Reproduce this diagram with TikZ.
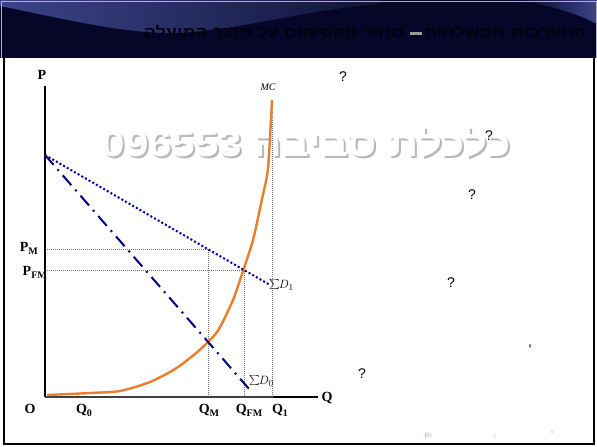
\documentclass[tikz,border=0pt]{standalone}
\usepackage{fontspec}
\setmainfont{Liberation Serif}
\newfontfamily\hebfont[Script=Hebrew]{Liberation Sans}
\newfontfamily\qfont{Liberation Sans}
\TeXXeTstate=1
\usetikzlibrary{positioning}
\definecolor{navyband}{RGB}{6,6,40}
\definecolor{bandlight}{RGB}{60,68,135}
\definecolor{titleink}{RGB}{2,2,14}
\definecolor{demblue}{RGB}{0,0,170}
\definecolor{mcorange}{RGB}{236,125,45}
\newcommand{\axlbl}[2]{\textbf{#1\raisebox{-0.45ex}{\fontsize{10}{10}\selectfont #2}}}
\newcommand{\sumlbl}[1]{{\fontsize{19}{19}\selectfont$\sum$}\kern-1pt{\fontsize{13}{13}\selectfont$D_{#1}$}}

\begin{document}
\begin{tikzpicture}[x=1pt, y=-1pt,
    axis/.style={line width=2pt},
    guide/.style={black!55, line width=0.5pt, dash pattern=on 1pt off 1pt},
    demone/.style={demblue, line width=2pt, dash pattern=on 2pt off 2.2pt},
    demzero/.style={demblue!75!black, line width=2pt, dash pattern=on 13pt off 6pt on 2pt off 6pt},
    cost/.style={mcorange, line width=2.4pt, line join=round},
    ax/.style={font=\fontsize{14}{14}\selectfont, inner sep=1pt},
    dlbl/.style={inner sep=0pt, anchor=west},
    qmark/.style={font=\qfont\fontsize{14}{14}\selectfont, inner sep=0pt},
    wmark/.style={font=\hebfont\bfseries\fontsize{36}{36}\selectfont, xscale=1.17, inner sep=0pt},
    ttl/.style={font=\hebfont\bfseries\fontsize{15}{15}\selectfont, xscale=1.2, text=titleink, inner sep=0pt},
    foot/.style={font=\qfont\fontsize{6}{6}\selectfont, text=black!35, inner sep=0pt},
]
\useasboundingbox (0,0) rectangle (597,447);

% Title band
\fill[navyband] (0,0) rectangle (597,58);
\shade[left color=bandlight, right color=navyband!80!bandlight]
  (0,6) .. controls (60,18) and (120,33) .. (170,33)
  .. controls (230,33) and (300,10) .. (380,4) -- (380,0) -- (0,0) -- cycle;
\shade[left color=navyband, right color=bandlight]
  (520,0) .. controls (545,5) and (575,12) .. (597,24) -- (597,0) -- cycle;
\draw[gray!60, line width=0.8pt] (1,58) -- (1,1) -- (596,1) -- (596,58);
\node[ttl] (title) at (365,33) {\beginR התערבות ממשלתית – מחיר מקסימום על מוצר המועלה\endR};
\fill[gray!80] (410,32) rectangle (422,34.5);

% Slide frame
\draw[line width=2pt] (4,58) -- (4,444) -- (594,444) -- (594,58);

% Watermark
\node[wmark, text=black!28] (wmshadow) at (308,144.5) {\beginR כלכלת סביבה \beginL 096553\endL\endR};
\node[wmark, text=white] (wm) at (306,142.5) {\beginR כלכלת סביבה \beginL 096553\endL\endR};

% Points of the graph
\coordinate (O) at (45,397);
\coordinate (Ptop) at (45,86);
\coordinate (Qbend) at (273,397);
\coordinate (Qend) at (318,397);
\coordinate (Dtop) at (45,155);
\coordinate (D1end) at (270,285);
\coordinate (D0end) at (250,390);
\coordinate (pm) at (47,249);
\coordinate (em) at (208,249);
\coordinate (qm) at (208,397);
\coordinate (pfm) at (47,270);
\coordinate (efm) at (244,270);
\coordinate (qfm) at (244,397);
\coordinate (mctop) at (272,100);
\coordinate (qone) at (272,397);

% Guide lines
\draw[guide] (pm) -- (em) -- (qm);
\draw[guide] (pfm) -- (efm) -- (qfm);
\draw[guide] (mctop) -- (qone);

% Axes
\draw[axis] (Ptop) -- (O);
\draw[axis, black!75] (O) -- (Qbend);
\draw[axis] (Qbend) -- (Qend);

% Marginal cost
\draw[cost] plot[smooth, tension=0.45] coordinates {(47,395) (90,393) (120,391) (150,382)
  (175,369) (195,354) (209,341) (219,329) (233,300) (243,271) (253,240) (262,199) (268,168) (272,100)};

% Demand curves
\draw[demone] (Dtop) -- (D1end);
\draw[demzero] (Dtop) -- (D0end);

% Labels
\node[ax] (plbl) at (42,75) {\textbf{P}};
\node[ax, font=\itshape\fontsize{10}{10}\selectfont] (mclbl) at (268,87) {MC};
\node[ax, anchor=east] (pmlbl) at (39,248) {\axlbl{P}{M}};
\node[ax, anchor=east] (pfmlbl) at (48,272) {\axlbl{P}{FM}};
\node[ax] (olbl) at (30,409) {\textbf{O}};
\node[ax] (q0lbl) at (84,410) {\axlbl{Q}{0}};
\node[ax] (qmlbl) at (209,410) {\axlbl{Q}{M}};
\node[ax] (qfmlbl) at (249,410) {\axlbl{Q}{FM}};
\node[ax] (q1lbl) at (280,410) {\axlbl{Q}{1}};
\node[ax] (qlbl) at (327,398) {\textbf{Q}};
\node[dlbl] (d1lbl) at (269,285) {\sumlbl{1}};
\node[dlbl] (d0lbl) at (249,381) {\sumlbl{0}};

% Lost text marks
\node[qmark] (qa) at (343,77) {?};
\node[qmark] (qb) at (489,136) {?};
\node[qmark] (qc) at (472,195) {?};
\node[qmark] (qd) at (451,283) {?};
\node[qmark] (qe) at (362,374) {?};
\node[qmark] (qf) at (530,347) {,};
\node[foot] (fa) at (428,436) {-ʃ©-};
\node[foot] (fb) at (495,436) {/};
\node[foot] (fc) at (552,434) {״};
\end{tikzpicture}
\end{document}
